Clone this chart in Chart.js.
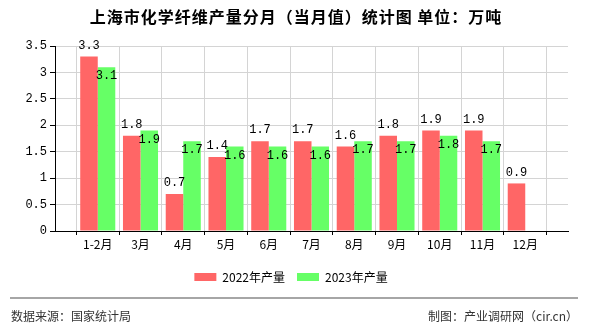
<!DOCTYPE html>
<html>
<head>
<meta charset="utf-8">
<script src="https://cdn.jsdelivr.net/npm/chart.js@4"></script>
<style>
  html, body { margin: 0; padding: 0; background: #fff; }
  #wrap { width: 590px; height: 330px; }
</style>
</head>
<body>
<div id="wrap"><canvas id="output-chart" width="590" height="330"></canvas></div>
<script>
// Shanghai chemical fibre output by month (万吨)
const months = ['1-2月', '3月', '4月', '5月', '6月', '7月', '8月', '9月', '10月', '11月', '12月'];
const output_2022 = [3.3, 1.8, 0.7, 1.4, 1.7, 1.7, 1.6, 1.8, 1.9, 1.9, 0.9];
const output_2023 = [3.1, 1.9, 1.7, 1.6, 1.6, 1.6, 1.7, 1.7, 1.8, 1.7, null];
const y_ticks = [0, 0.5, 1, 1.5, 2, 2.5, 3, 3.5];

const title_text = '上海市化学纤维产量分月（当月值）统计图 单位：万吨';
const source_text = '数据来源：国家统计局';
const credit_text = '制图：产业调研网（cir.cn）';

// empty slot at each end so bars sit on the grid lines
const labels = [''].concat(months, ['']);
const pad = arr => [null].concat(arr, [null]);

const cjk = '"Noto Sans CJK SC", sans-serif';
const mono = '"Liberation Mono", monospace';

const page_text = {
  id: 'page_text',
  afterLayout(chart) {
    // legend sits centred on the whole page, not the plot
    chart.legend.left += 7;
    chart.legend.right += 7;
  },
  afterDatasetsDraw(chart) {
    const ctx = chart.ctx;
    ctx.save();
    ctx.font = '12px ' + mono;
    ctx.fillStyle = '#000';
    ctx.textAlign = 'center';
    ctx.textBaseline = 'middle';
    chart.data.datasets.forEach((ds, i) => {
      const meta = chart.getDatasetMeta(i);
      meta.data.forEach((bar, j) => {
        const v = ds.data[j];
        if (v === null || v === undefined) return;
        const y = i === 0 ? bar.y - 11 : bar.y + 9;
        ctx.fillText(v.toFixed(1), bar.x, y);
      });
    });
    ctx.restore();
  },
  afterDraw(chart) {
    const ctx = chart.ctx;
    ctx.save();
    ctx.fillStyle = '#000';
    ctx.font = 'bold 16px ' + cjk;
    ctx.letterSpacing = '1px';
    ctx.textAlign = 'center';
    ctx.textBaseline = 'middle';
    ctx.fillText(title_text, 296, 17);
    ctx.letterSpacing = '0px';

    ctx.strokeStyle = '#888';
    ctx.lineWidth = 1.5;
    ctx.beginPath();
    ctx.moveTo(10, 298);
    ctx.lineTo(578, 298);
    ctx.stroke();

    ctx.fillStyle = '#333';
    ctx.font = '12px ' + cjk;
    ctx.textAlign = 'left';
    ctx.fillText(source_text, 11, 316);
    ctx.textAlign = 'right';
    ctx.fillText(credit_text, 578, 316);
    ctx.restore();
  }
};

const output_chart = new Chart(document.getElementById('output-chart'), {
  type: 'bar',
  data: {
    labels: labels,
    datasets: [
      {
        label: '2022年产量',
        data: pad(output_2022),
        backgroundColor: '#ff6666',
        borderWidth: 0,
        categoryPercentage: 0.82,
        barPercentage: 1.0
      },
      {
        label: '2023年产量',
        data: pad(output_2023),
        backgroundColor: '#66ff66',
        borderWidth: 0,
        categoryPercentage: 0.82,
        barPercentage: 1.0
      }
    ]
  },
  options: {
    responsive: false,
    animation: false,
    devicePixelRatio: 1,
    layout: {
      padding: { top: 46, right: 22, bottom: 37, left: 0 }
    },
    scales: {
      x: {
        offset: false,
        grid: {
          color: '#d4d4d4',
          tickColor: '#000',
          tickLength: 4
        },
        border: { color: '#000', width: 1 },
        ticks: {
          color: '#000',
          font: { family: cjk, size: 12 },
          maxRotation: 0,
          autoSkip: false,
          padding: 2
        },
        afterFit(scale) { scale.height = 28; }
      },
      y: {
        min: 0,
        max: 3.5,
        grid: {
          color: '#d4d4d4',
          tickColor: '#000',
          tickLength: 5
        },
        border: { color: '#000', width: 1 },
        ticks: {
          color: '#000',
          font: { family: mono, size: 12 },
          padding: 3,
          callback: v => String(v)
        },
        afterBuildTicks(scale) {
          scale.ticks = y_ticks.map(v => ({ value: v }));
        },
        afterFit(scale) { scale.width = 55; }
      }
    },
    plugins: {
      legend: {
        position: 'bottom',
        labels: {
          boxWidth: 22,
          boxHeight: 8,
          padding: 12,
          color: '#000',
          font: { family: cjk, size: 12 }
        }
      },
      title: { display: false },
      tooltip: { enabled: false }
    }
  },
  plugins: [page_text]
});
</script>
</body>
</html>
